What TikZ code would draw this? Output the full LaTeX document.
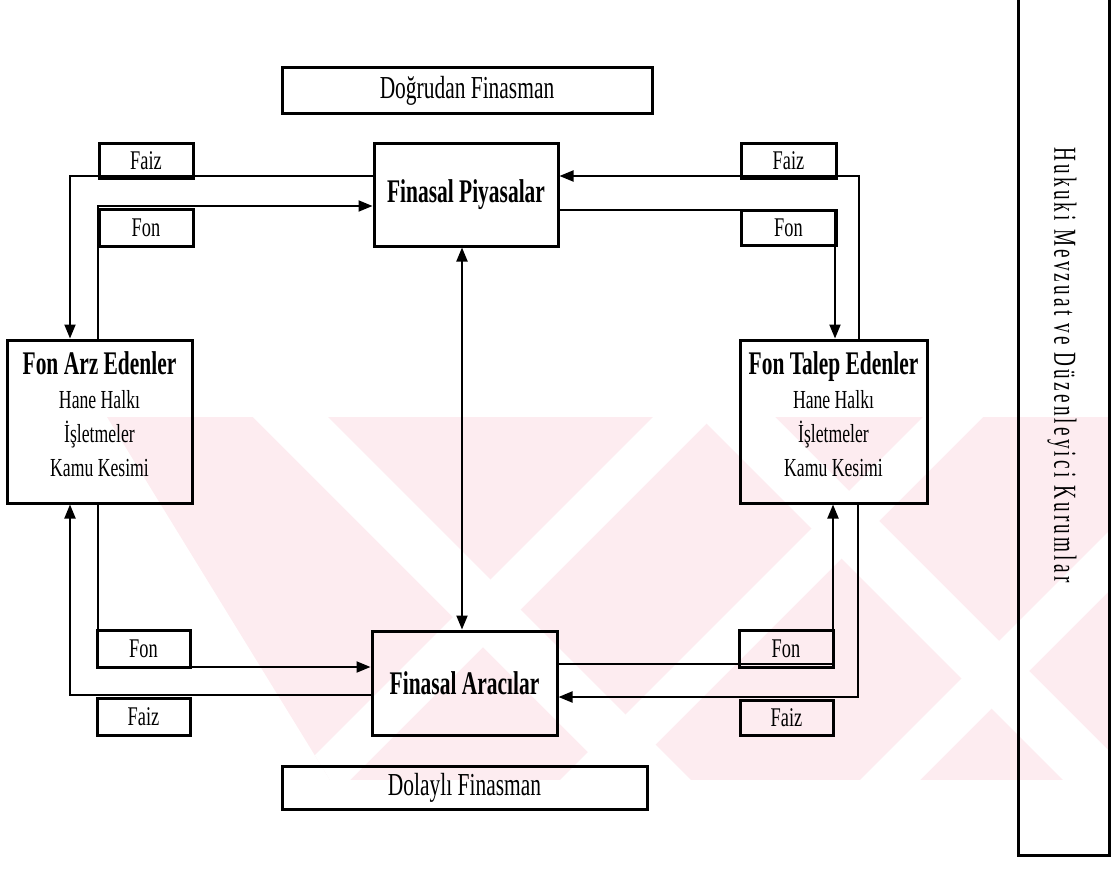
\documentclass[tikz,border=0pt]{standalone}
\usepackage{fontspec}
\setmainfont{Liberation Serif}
\newfontfamily\creg{Liberation Serif}[FakeStretch=0.68]
\newfontfamily\chead{Liberation Serif}[FakeStretch=0.67]
\newfontfamily\cbold{Liberation Serif Bold}[FakeStretch=0.65]
\newfontfamily\vfont{Liberation Serif}[FakeStretch=0.6,LetterSpace=10]
\usetikzlibrary{arrows.meta,backgrounds}
\definecolor{wm}{RGB}{253,236,240}
\begin{document}
\begin{tikzpicture}[x=1pt,y=-1pt,
  box/.style={draw,line width=3pt,rectangle,inner sep=0pt,align=center},
  lab/.style={box,font=\creg\fontsize{27}{27}\selectfont},
  head/.style={box,font=\chead\fontsize{32}{32}\selectfont},
  mainbox/.style={box,font=\cbold\fontsize{33}{33}\selectfont},
  blocktext/.style={inner sep=0pt,anchor=north,align=center,font=\creg\fontsize{26}{34}\selectfont},
  conn/.style={line width=2pt},
  tip/.tip={Triangle[length=14pt,width=11pt]},
  arr/.style={conn,-tip},
  darr/.style={conn,tip-tip}]
\useasboundingbox (0,0) rectangle (1111,875);

% boxes
\node[head,minimum width=370pt,minimum height=45pt] (dogru) at (467,90.5) {Doğrudan Finasman};
\node[mainbox,minimum width=184pt,minimum height=103pt] (piy) at (466,194.5) {Finasal Piyasalar};
\node[mainbox,minimum width=185pt,minimum height=104pt] (arac) at (464.5,683) {Finasal Aracılar};
\node[head,minimum width=365pt,minimum height=43pt] (dol) at (464.5,787.5) {Dolaylı Finasman};

\node[box,minimum width=185pt,minimum height=163pt] (arz) at (99.5,421.5) {};
\node[blocktext] (arzt) at (99.5,351) {{\cbold\fontsize{33}{34}\selectfont Fon Arz Edenler}\\Hane Halkı\\İşletmeler\\Kamu Kesimi};
\node[box,minimum width=187pt,minimum height=163pt] (talep) at (833.5,421.5) {};
\node[blocktext] (talept) at (833.5,351) {{\cbold\fontsize{33}{34}\selectfont Fon Talep Edenler}\\Hane Halkı\\İşletmeler\\Kamu Kesimi};

\node[lab,minimum width=94pt,minimum height=35pt] (faiz1) at (146,160.5) {Faiz};
\node[lab,minimum width=94pt,minimum height=37pt] (fon1) at (146,227.5) {Fon};
\node[lab,minimum width=95pt,minimum height=35pt] (faiz2) at (788.5,160.5) {Faiz};
\node[lab,minimum width=95pt,minimum height=35pt] (fon2) at (788.5,227.5) {Fon};
\node[lab,minimum width=93pt,minimum height=37pt] (fon3) at (143.5,648.5) {Fon};
\node[lab,minimum width=93pt,minimum height=37pt] (faiz3) at (143.5,716.5) {Faiz};
\node[lab,minimum width=94pt,minimum height=37pt] (fon4) at (786,648.5) {Fon};
\node[lab,minimum width=93pt,minimum height=35pt] (faiz4) at (786.5,717.5) {Faiz};

% legal frame
\node[draw,line width=3pt,minimum width=91pt,minimum height=865pt,inner sep=0pt] (hukuk) at (1063.5,422.5) {};
\node[rotate=-90,inner sep=0pt,font=\vfont\fontsize{32}{32}\selectfont] (hukukt) at (1062,365) {Hukuki Mevzuat ve Düzenleyici Kurumlar};

\begin{scope}[on background layer]
  \begin{scope}
    \clip (107,417) -- (1111,417) -- (1111,780) -- (330,780) -- cycle;
    \fill[wm] (100,417) rectangle (1111,780);
    \foreach \b in {290,560,860} {
      \fill[white] (\b,780) -- (\b+60,780) -- (\b+423,417) -- (\b+363,417) -- cycle;
    }
    \foreach \t in {253,700} {
      \fill[white] (\t,417) -- (\t+75,417) -- (\t+438,780) -- (\t+363,780) -- cycle;
    }
  \end{scope}
  % connectors
  \draw[arr] ([yshift=18.5pt]piy.west) -| ([xshift=-29.5pt]arz.north);
  \draw[arr] ([xshift=-1.5pt]arz.north) |- ([yshift=-11.5pt]piy.west);
  \draw[arr] ([xshift=25.5pt]talep.north) |- ([yshift=18.5pt]piy.east);
  \draw[arr] ([yshift=-15.5pt]piy.east) -| ([xshift=1.5pt]talep.north);
  \draw[darr] ([xshift=-4pt]piy.south) -- ([xshift=-2.5pt]arac.north);
  \draw[arr] ([xshift=-1.5pt]arz.south) |- ([yshift=16pt]arac.west);
  \draw[arr] ([yshift=-12pt]arac.west) -| ([xshift=-29.5pt]arz.south);
  \draw[arr] ([yshift=19pt]arac.east) -| ([xshift=-0.5pt]talep.south);
  \draw[arr] ([xshift=24.5pt]talep.south) |- ([yshift=-14pt]arac.east);
\end{scope}
\end{tikzpicture}
\end{document}
